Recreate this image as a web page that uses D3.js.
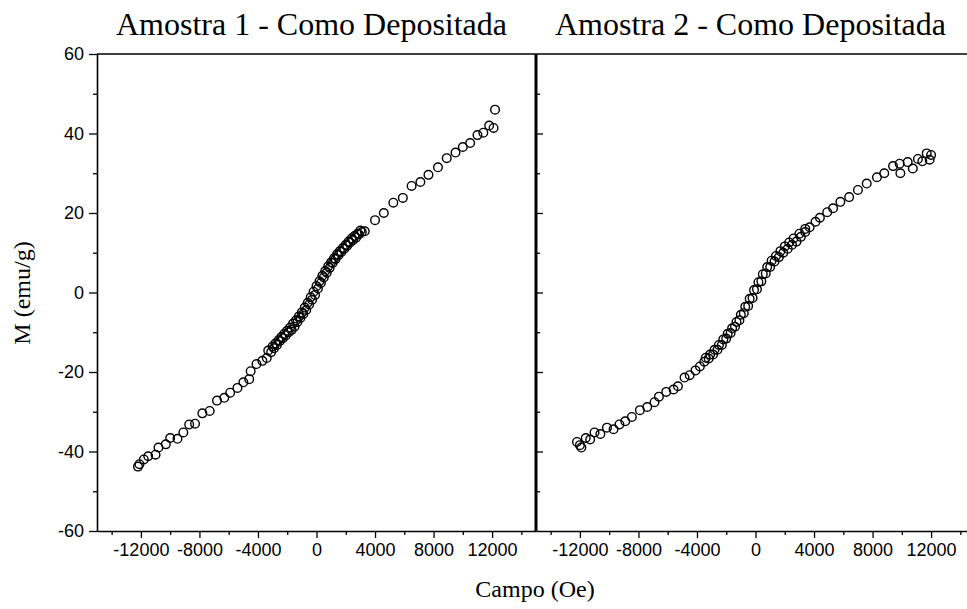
<!DOCTYPE html>
<html>
<head>
<meta charset="utf-8">
<script src="https://cdn.jsdelivr.net/npm/d3@7"></script>
<style>
  html, body { margin: 0; padding: 0; background: #fff; }
  svg { display: block; }
  .tick text { font-family: "Liberation Sans", Arial, sans-serif; }
</style>
</head>
<body>
<svg id="chart" width="967" height="609"></svg>
<script>
// Panel titles
const panelTitles = ["Amostra 1 - Como Depositada", "Amostra 2 - Como Depositada"];
const xLabel = "Campo (Oe)";
const yLabel = "M (emu/g)";

// Tick values
const xMajorTicks = [-12000, -8000, -4000, 0, 4000, 8000, 12000];
const xMinorTicks = [-14000, -10000, -6000, -2000, 2000, 6000, 10000, 14000];
const yMajorTicks = [-60, -40, -20, 0, 20, 40, 60];
const yMinorTicks = [-50, -30, -10, 10, 30, 50];

// Sample 1: applied field (Oe) and magnetization (emu/g)
const field1 = [
  -12200, -12100, -11800, -11500, -11000, -10800, -10300, -10000, -9500, -9100,
  -8700, -8300, -7800, -7300, -6800, -6300, -5900, -5400, -5000, -4600,
  -4500, -4100, -3700, -3400, -3100, -2900, -2700, -2500, -2300, -2100,
  -1900, -1700, -1500, -1300, -1100, -900, -700, -500, -300, -100,
  100, 300, 500, 700, 900, 1100, 1300, 1500, 1700, 1900,
  2100, 2300, 2500, 2700, 2900, 3100, 3300, 4000, 4600, 5250,
  5900, 6500, 7100, 7650, 8300, 8900, 9500, 10000, 10500, 11000,
  11400, 11800, 12100, 12200,
  3000, 2800, 2600, 2400, 2200, 2000, 1800, 1600, 1400, 1200,
  1000, 800, 600, 400, 200, 0, -200, -400, -600, -800,
  -1000, -1200, -1400, -1600, -1800, -2000, -2200, -2400, -2600, -2800,
  -3000, -3300
];
const moment1 = [
  -43.8, -43.2, -42.0, -41.2, -40.8, -39.0, -38.2, -36.6, -36.8, -35.2,
  -33.2, -33.0, -30.4, -29.8, -27.2, -26.5, -25.2, -24.0, -22.6, -21.8,
  -19.8, -18.0, -17.2, -16.5, -15.0, -14.0, -13.2, -12.2, -11.5, -10.8,
  -10.0, -9.4, -8.6, -7.4, -6.4, -5.4, -4.4, -3.0, -1.8, -0.6,
  1.0, 2.4, 3.8, 5.0, 6.2, 7.4, 8.4, 9.4, 10.2, 11.0,
  11.8, 12.6, 13.2, 13.8, 14.6, 15.2, 15.4, 18.2, 20.0, 22.6,
  23.8, 26.8, 27.8, 29.6, 31.5, 33.8, 35.2, 36.6, 37.6, 39.6,
  40.2, 42.0, 41.4, 46.0,
  15.6, 14.8, 14.2, 13.6, 12.8, 12.0, 11.2, 10.4, 9.6, 8.6,
  7.6, 6.6, 5.4, 4.2, 2.8, 1.6, 0.2, -1.2, -2.6, -3.8,
  -5.0, -6.0, -7.0, -7.8, -8.8, -9.6, -10.4, -11.2, -12.0, -12.8,
  -13.6, -14.6
];

// Sample 2: applied field (Oe) and magnetization (emu/g)
const field2 = [
  -12200, -12000, -11900, -11600, -11300, -11000, -10600, -10150, -9700, -9300,
  -8900, -8450, -7900, -7400, -6900, -6600, -6100, -5600, -5300, -4850,
  -4500, -4100, -3800, -3500, -3200, -2900, -2600, -2300, -2000, -1700,
  -1400, -1100, -800, -500, -200, 100, 400, 700, 1000, 1300,
  1600, 1900, 2200, 2500, 2800, 3100, 3400, 3700, 4100, 4400,
  4900, 5300, 5800, 6400, 7000, 7600, 8300, 8800, 9400, 9850,
  9900, 10400, 10750, 11100, 11400, 11700, 11900, 12000,
  3400, 3000, 2600, 2300, 2000, 1700, 1400, 1100, 800, 500,
  200, -100, -400, -700, -1000, -1300, -1600, -1900, -2200, -2500,
  -2800, -3100, -3400
];
const moment2 = [
  -37.6, -38.4, -39.0, -36.6, -37.0, -35.2, -35.6, -34.0, -34.4, -33.2,
  -32.4, -31.3, -29.6, -28.8, -27.6, -26.2, -25.0, -24.4, -23.6, -21.4,
  -20.8, -19.6, -18.6, -17.4, -16.6, -15.6, -14.4, -13.2, -11.6, -10.2,
  -8.6, -7.0, -5.2, -3.4, -1.4, 0.8, 2.8, 4.8, 6.4, 7.8,
  8.9, 10.0, 11.0, 12.0, 12.8, 14.0, 15.2, 16.4, 17.8, 18.8,
  20.2, 21.2, 22.8, 24.0, 25.8, 27.4, 29.0, 30.0, 31.8, 32.4,
  30.0, 32.8, 31.2, 33.6, 33.0, 35.0, 33.4, 34.6,
  16.0, 14.8, 13.6, 12.6, 11.6, 10.4, 9.2, 8.0, 6.4, 4.6,
  2.6, 0.6, -1.6, -3.6, -5.6, -7.4, -9.0, -10.4, -11.8, -13.2,
  -14.4, -15.6, -16.4
];

const svg = d3.select("#chart");
const W = 967;

const plotTop = 54, plotBottom = 531;
const panelLeft = [97, 536];
const panelWidth = 439;

// plain hyphen-minus for negative tick labels
const fmt = d => String(d);

const y = d3.scaleLinear().domain([-60, 60]).range([plotBottom, plotTop]);

const panels = [
  { field: field1, moment: moment1, title: panelTitles[0], left: panelLeft[0] },
  { field: field2, moment: moment2, title: panelTitles[1], left: panelLeft[1] }
];

// Clip so the second panel stops at the page edge
svg.append("defs").append("clipPath").attr("id", "page")
  .append("rect").attr("x", 0).attr("y", 0).attr("width", W).attr("height", 609);

const root = svg.append("g").attr("clip-path", "url(#page)");

panels.forEach((p, i) => {
  const x = d3.scaleLinear().domain([-15000, 15000]).range([p.left, p.left + panelWidth]);

  // bottom axis: labelled major ticks
  const xAxis = root.append("g")
    .attr("transform", `translate(0,${plotBottom})`)
    .call(d3.axisBottom(x).tickValues(xMajorTicks).tickSize(7).tickPadding(5)
      .tickFormat(fmt).tickSizeOuter(0));
  xAxis.select(".domain").attr("stroke-width", 1.6);
  xAxis.selectAll(".tick line").attr("stroke-width", 1.3);
  xAxis.selectAll(".tick text").attr("font-size", 18).attr("fill", "#000");

  // bottom axis: minor ticks
  root.append("g")
    .attr("transform", `translate(0,${plotBottom})`)
    .call(d3.axisBottom(x).tickValues(xMinorTicks).tickSize(4).tickFormat("").tickSizeOuter(0))
    .call(g => g.select(".domain").remove())
    .selectAll(".tick line").attr("stroke-width", 1.3);

  // panel title
  root.append("text")
    .attr("x", x(0) - 5)
    .attr("y", 35)
    .attr("text-anchor", "middle")
    .attr("font-family", "'Liberation Serif', 'Times New Roman', serif")
    .attr("font-size", 32)
    .attr("fill", "#000")
    .text(p.title);

  // data markers
  root.append("g")
    .selectAll("circle")
    .data(d3.zip(p.field, p.moment))
    .join("circle")
    .attr("cx", d => x(d[0]))
    .attr("cy", d => y(d[1]))
    .attr("r", 4.3)
    .attr("fill", "none")
    .attr("stroke", "#000")
    .attr("stroke-width", 1.4);
});

// left y axis of first panel
const yAxisLeft = root.append("g")
  .attr("transform", `translate(${panelLeft[0]},0)`)
  .call(d3.axisLeft(y).tickValues(yMajorTicks).tickSize(8).tickPadding(5)
    .tickFormat(fmt).tickSizeOuter(0));
yAxisLeft.select(".domain").attr("stroke-width", 1.6);
yAxisLeft.selectAll(".tick line").attr("stroke-width", 1.3);
yAxisLeft.selectAll(".tick text").attr("font-size", 18).attr("fill", "#000");

root.append("g")
  .attr("transform", `translate(${panelLeft[0]},0)`)
  .call(d3.axisLeft(y).tickValues(yMinorTicks).tickSize(4).tickFormat("").tickSizeOuter(0))
  .call(g => g.select(".domain").remove())
  .selectAll(".tick line").attr("stroke-width", 1.3);

// inward ticks on the shared divider
root.append("g")
  .attr("transform", `translate(${panelLeft[1]},0)`)
  .call(d3.axisRight(y).tickValues(yMajorTicks.slice(1, -1)).tickSize(7).tickFormat("").tickSizeOuter(0))
  .call(g => g.select(".domain").remove())
  .selectAll(".tick line").attr("stroke-width", 1.3);
root.append("g")
  .attr("transform", `translate(${panelLeft[1]},0)`)
  .call(d3.axisRight(y).tickValues(yMinorTicks).tickSize(4).tickFormat("").tickSizeOuter(0))
  .call(g => g.select(".domain").remove())
  .selectAll(".tick line").attr("stroke-width", 1.3);

// top frame line
root.append("line")
  .attr("x1", panelLeft[0]).attr("x2", W)
  .attr("y1", plotTop).attr("y2", plotTop)
  .attr("stroke", "#000").attr("stroke-width", 1.6);

// divider between the two panels
root.append("line")
  .attr("x1", panelLeft[1]).attr("x2", panelLeft[1])
  .attr("y1", plotTop).attr("y2", plotBottom)
  .attr("stroke", "#000").attr("stroke-width", 3);

// axis titles
root.append("text")
  .attr("x", 535)
  .attr("y", 597)
  .attr("text-anchor", "middle")
  .attr("font-family", "'Liberation Serif', 'Times New Roman', serif")
  .attr("font-size", 24)
  .attr("fill", "#000")
  .text(xLabel);

root.append("text")
  .attr("transform", `translate(30,293) rotate(-90)`)
  .attr("text-anchor", "middle")
  .attr("font-family", "'Liberation Serif', 'Times New Roman', serif")
  .attr("font-size", 24)
  .attr("fill", "#000")
  .text(yLabel);
</script>
</body>
</html>
